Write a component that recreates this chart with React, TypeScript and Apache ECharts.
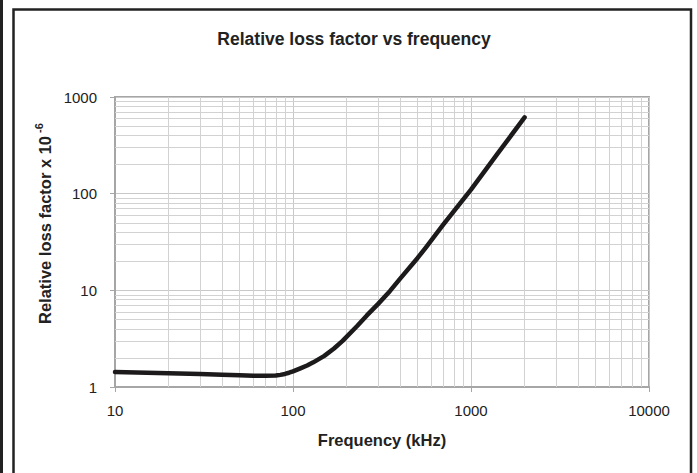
import React, { useEffect, useRef } from "react";
import * as echarts from "echarts";

const chartTitle = "Relative loss factor vs frequency";
const xAxisTitle = "Frequency (kHz)";
const yAxisTitle = "Relative loss factor x 10";
const yAxisTitleSup = "-6";

// frequency in kHz
const freq = [10, 20, 30, 40, 50, 60, 70, 80, 85, 90, 95, 100, 110, 120, 130, 150, 170, 190, 230, 260, 300, 350, 400, 500, 560, 700, 1000, 1400, 2000];
// relative loss factor x 1e-6
const lossFactor = [1.43, 1.39, 1.36, 1.34, 1.32, 1.31, 1.305, 1.315, 1.335, 1.365, 1.405, 1.45, 1.56, 1.67, 1.8, 2.1, 2.5, 3.0, 4.3, 5.5, 7.2, 9.8, 13.2, 21.5, 28, 48, 110, 255, 615];

const xMinorGrid = [20, 30, 40, 50, 60, 70, 80, 90, 200, 300, 400, 500, 600, 700, 800, 900, 2000, 3000, 4000, 5000, 6000, 7000, 8000, 9000];
const yMinorGrid = [2, 3, 4, 5, 6, 7, 8, 9, 20, 30, 40, 50, 60, 70, 80, 90, 200, 300, 400, 500, 600, 700, 800, 900];

const FONT = "'Liberation Sans', Arial, sans-serif";

export default function App() {
  const ref = useRef<HTMLDivElement>(null);
  useEffect(() => {
    if (!ref.current) return;
    const chart = echarts.init(ref.current, null, { renderer: "svg" });
    const data = freq.map((f, i) => [f, lossFactor[i]]);
    const gridStyle = { color: "#d2d2d2", width: 1, type: "solid" as const };
    chart.setOption({
      animation: false,
      backgroundColor: "#ffffff",
      textStyle: { fontFamily: FONT },
      grid: {
        left: 115,
        right: 48,
        top: 97,
        bottom: 86,
        show: true,
        borderColor: "#a6a6a6",
        borderWidth: 2,
        backgroundColor: "transparent",
      },
      xAxis: {
        type: "log",
        logBase: 10,
        min: 10,
        max: 10000,
        axisLine: { show: true, lineStyle: { color: "#a6a6a6", width: 2 } },
        axisTick: { show: true, length: 5, lineStyle: { color: "#a6a6a6" } },
        axisLabel: {
          color: "#222",
          fontSize: 15,
          fontFamily: FONT,
          margin: 16,
          formatter: (v: number) => String(Math.round(v)),
        },
        splitLine: { show: true, lineStyle: { color: "#c8c8c8", width: 1 } },
      },
      yAxis: {
        type: "log",
        logBase: 10,
        min: 1,
        max: 1000,
        axisLine: { show: true, lineStyle: { color: "#a6a6a6", width: 2 } },
        axisTick: { show: true, length: 5, lineStyle: { color: "#a6a6a6" } },
        axisLabel: {
          color: "#222",
          fontSize: 15,
          fontFamily: FONT,
          margin: 18,
          formatter: (v: number) => String(Math.round(v)),
        },
        splitLine: { show: true, lineStyle: { color: "#c8c8c8", width: 1 } },
      },
      series: [
        {
          type: "line",
          data,
          z: 3,
          smooth: false,
          symbol: "none",
          lineStyle: { color: "#1c1a1a", width: 4.5, cap: "round", join: "round" },
          markLine: {
            z: 1,
            silent: true,
            symbol: ["none", "none"],
            label: { show: false },
            lineStyle: gridStyle,
            emphasis: { disabled: true },
            data: [
              ...xMinorGrid.map((v) => ({ xAxis: v })),
              ...yMinorGrid.map((v) => ({ yAxis: v })),
            ],
          },
        },
      ],
      graphic: [
        {
          type: "rect",
          shape: { x: 0, y: 0, width: 3, height: 473 },
          style: { fill: "#222" },
          silent: true,
        },
        {
          type: "rect",
          shape: { x: 13.5, y: 9.5, width: 677.5, height: 480 },
          style: { fill: "none", stroke: "#222", lineWidth: 2.5 },
          silent: true,
        },
        {
          type: "text",
          x: 354,
          y: 39,
          style: {
            text: chartTitle,
            font: `bold 17.5px ${FONT}`,
            fill: "#222",
            textAlign: "center",
            textVerticalAlign: "middle",
          },
        },
        {
          type: "text",
          x: 382,
          y: 440,
          style: {
            text: xAxisTitle,
            font: `bold 16.5px ${FONT}`,
            fill: "#222",
            textAlign: "center",
            textVerticalAlign: "middle",
          },
        },
        {
          type: "text",
          x: 45,
          y: 230,
          rotation: Math.PI / 2,
          style: {
            text: yAxisTitle,
            font: `bold 16.5px ${FONT}`,
            fill: "#222",
            textAlign: "center",
            textVerticalAlign: "middle",
          },
        },
        {
          type: "text",
          x: 39,
          y: 128,
          rotation: Math.PI / 2,
          style: {
            text: yAxisTitleSup,
            font: `bold 11px ${FONT}`,
            fill: "#222",
            textAlign: "center",
            textVerticalAlign: "middle",
          },
        },
      ],
    });
    return () => chart.dispose();
  }, []);
  return (
    <div
      ref={ref}
      style={{ position: "fixed", left: 0, top: 0, width: 697, height: 473 }}
    />
  );
}
